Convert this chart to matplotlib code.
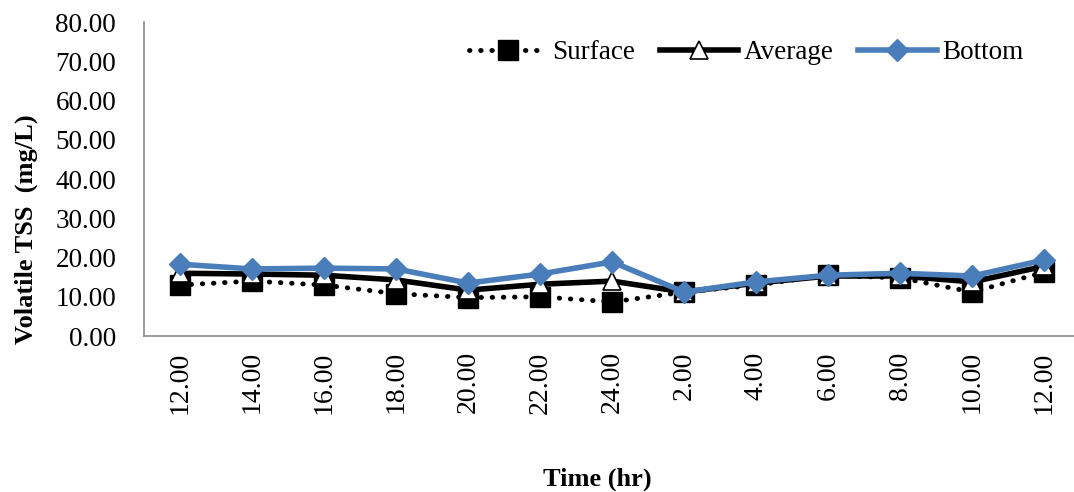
import numpy as np
import matplotlib.pyplot as plt

plt.rcParams['font.family'] = ['Liberation Serif', 'DejaVu Serif']

# sampling times over one day
times = ['12.00', '14.00', '16.00', '18.00', '20.00', '22.00', '24.00',
         '2.00', '4.00', '6.00', '8.00', '10.00', '12.00']

# volatile TSS (mg/L) at each depth
surface = [13.0, 14.0, 13.0, 10.8, 9.8, 10.0, 8.7, 11.2, 13.0, 15.5, 14.8, 11.2, 16.3]
average = [16.0, 15.8, 15.5, 14.3, 11.7, 13.2, 14.0, 11.2, 13.5, 15.3, 15.3, 13.8, 17.8]
bottom = [18.3, 17.1, 17.3, 17.1, 13.5, 15.8, 18.9, 11.2, 13.8, 15.5, 16.0, 15.3, 19.4]

x = np.arange(len(times))

fig = plt.figure(figsize=(10.74, 4.92), dpi=100)
ax = fig.add_axes([0.134, 0.317, 0.872, 0.638])

ax.plot(x, surface, color='black', linestyle=(0, (0.1, 2.2)), linewidth=3.5,
        dash_capstyle='round', marker='s', markersize=14,
        markerfacecolor='black', markeredgecolor='black', label='Surface')
ax.plot(x, average, color='black', linewidth=4, marker='^', markersize=13,
        markerfacecolor='white', markeredgecolor='black', markeredgewidth=1.2,
        label='Average')
ax.plot(x, bottom, color='#4a7ebb', linewidth=4, marker='D', markersize=11,
        markerfacecolor='#4a7ebb', markeredgecolor='#4a7ebb', label='Bottom')

ax.set_xlim(-0.5, len(times) - 0.5)
ax.set_ylim(0, 80)
ax.set_yticks(np.arange(0, 81, 10))
ax.set_yticklabels([f'{v:.2f}' for v in range(0, 81, 10)], fontsize=19.5)
ax.set_xticks(x)
ax.set_xticklabels(times, rotation=90, fontsize=20)
ax.tick_params(axis='y', length=0, pad=20)
ax.tick_params(axis='x', length=0, pad=11)

for side in ['top', 'right']:
    ax.spines[side].set_visible(False)
for side in ['left', 'bottom']:
    ax.spines[side].set_color('#8c8c8c')
    ax.spines[side].set_linewidth(1.2)

ax.set_ylabel('Volatile TSS  (mg/L)', fontsize=19, fontweight='bold')
ax.yaxis.set_label_coords(-0.113, 0.34)
fig.text(0.556, 0.003, 'Time (hr)', ha='center', va='bottom',
         fontsize=19, fontweight='bold')

ax.legend(loc='upper right', bbox_to_anchor=(0.965, 1.02), ncol=3, frameon=False,
          fontsize=19.5, handlelength=2.9, columnspacing=0.9, handletextpad=0.2)

fig.savefig('out.png', dpi=100)
